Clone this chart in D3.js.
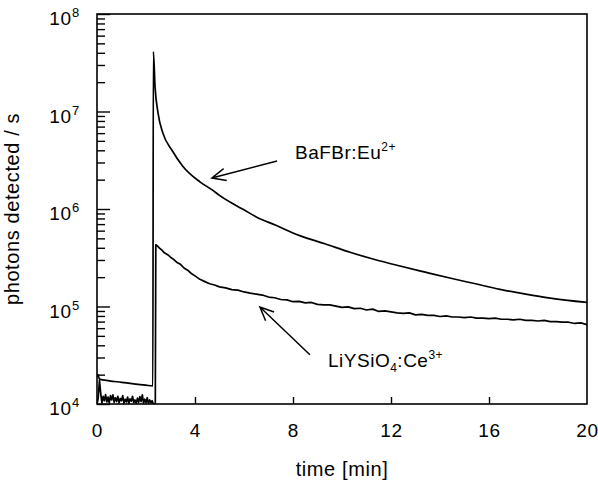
<!DOCTYPE html>
<html>
<head>
<meta charset="utf-8">
<script src="https://cdn.jsdelivr.net/npm/d3@7"></script>
<style>
  body { margin: 0; background: #fff; }
  text { font-family: "Liberation Sans", Arial, sans-serif; fill: #000; }
</style>
</head>
<body>
<div id="chart"></div>
<script>
// time [min] / photons per second
const bafbrT = [0, 0.04, 0.1, 0.5, 1.0, 1.5, 2.0, 2.28, 2.3, 2.37, 2.49, 2.69, 3.06, 3.5, 4.2, 4.7, 5.0, 5.5, 6.0, 6.5, 7.3, 8.3, 9.3, 10.33, 11.3, 12.37, 13.4, 14.4, 15.4, 16.45, 17.5, 18.5, 20];
const bafbrV = [1.9e4, 2.0e4, 1.8e4, 1.73e4, 1.67e4, 1.61e4, 1.56e4, 1.53e4, 4.1e7, 1.78e7, 9.7e6, 6.0e6, 4.0e6, 2.75e6, 1.9e6, 1.57e6, 1.38e6, 1.15e6, 9.8e5, 8.3e5, 6.8e5, 5.3e5, 4.4e5, 3.6e5, 3.05e5, 2.6e5, 2.25e5, 1.96e5, 1.72e5, 1.5e5, 1.34e5, 1.22e5, 1.1e5];

// LiYSiO4 before the exposure (noisy background)
const liysPreT = [0, 0.05, 0.1, 0.15, 0.2, 0.25, 0.3, 0.35, 0.4, 0.45, 0.5, 0.55, 0.6, 0.65, 0.7, 0.75, 0.8, 0.85, 0.9, 0.95,
  1.0, 1.05, 1.1, 1.15, 1.2, 1.25, 1.3, 1.35, 1.4, 1.45, 1.5, 1.55, 1.6, 1.65, 1.7, 1.75, 1.8, 1.85, 1.9, 1.95,
  2.0, 2.05, 2.1, 2.15, 2.2, 2.25, 2.3, 2.38];
const liysPreV = [1.0e4, 1.15e4, 1.75e4, 1.3e4, 1.02e4, 1.2e4, 1.08e4, 1.25e4, 1.05e4, 1.18e4, 1.02e4, 1.22e4, 1.1e4, 1.24e4, 1.04e4, 1.16e4, 1.06e4, 1.2e4, 1.03e4, 1.14e4,
  1.08e4, 1.22e4, 1.02e4, 1.12e4, 1.05e4, 1.18e4, 1.01e4, 1.13e4, 1.07e4, 1.2e4, 1.03e4, 1.1e4, 1.01e4, 1.15e4, 1.04e4, 1.19e4, 1.06e4, 1.24e4, 1.02e4, 1.12e4,
  1.03e4, 1.16e4, 1.01e4, 1.1e4, 1.03e4, 1.08e4, 1.0e4, 1.0e4];

// LiYSiO4 after the exposure
const liysT = [2.4, 2.45, 2.55, 2.65, 2.75, 2.9, 3.0, 3.1, 3.25, 3.4, 3.55, 3.7, 3.85, 4.0, 4.2, 4.4, 4.6, 4.8, 5.0,
  5.25, 5.5, 5.75, 6.0, 6.25, 6.5, 6.75, 7.0, 7.25, 7.5, 7.75, 8.0, 8.25, 8.5, 8.75, 9.0, 9.25, 9.5, 9.75,
  10.0, 10.25, 10.5, 10.75, 11.0, 11.25, 11.5, 11.75, 12.0, 12.25, 12.5, 12.75, 13.0, 13.25, 13.5, 13.75,
  14.0, 14.25, 14.5, 14.75, 15.0, 15.25, 15.5, 15.75, 16.0, 16.25, 16.5, 16.75, 17.0, 17.25, 17.5, 17.75,
  18.0, 18.25, 18.5, 18.75, 19.0, 19.25, 19.5, 19.75, 20.0];
const liysV = [4.3e5, 4.2e5, 3.98e5, 3.78e5, 3.55e5, 3.38e5, 3.2e5, 3.08e5, 2.85e5, 2.72e5, 2.48e5, 2.36e5, 2.18e5, 2.06e5, 1.9e5, 1.8e5, 1.71e5, 1.66e5, 1.59e5,
  1.55e5, 1.49e5, 1.47e5, 1.41e5, 1.37e5, 1.34e5, 1.31e5, 1.25e5, 1.23e5, 1.18e5, 1.17e5, 1.12e5, 1.13e5, 1.09e5, 1.1e5, 1.05e5, 1.04e5, 1.04e5, 1.01e5,
  0.98e5, 0.99e5, 0.95e5, 0.96e5, 0.92e5, 0.94e5, 0.89e5, 0.9e5, 0.88e5, 0.86e5, 0.85e5, 0.86e5, 0.82e5, 0.83e5, 0.81e5, 0.81e5,
  0.79e5, 0.8e5, 0.78e5, 0.78e5, 0.77e5, 0.78e5, 0.76e5, 0.76e5, 0.75e5, 0.76e5, 0.74e5, 0.74e5, 0.73e5, 0.74e5, 0.72e5, 0.72e5,
  0.71e5, 0.72e5, 0.70e5, 0.70e5, 0.69e5, 0.69e5, 0.67e5, 0.68e5, 0.65e5];

const xTicks = [0, 4, 8, 12, 16, 20];
const yDecades = [4, 5, 6, 7, 8];

// annotations: arrow tip, arrow tail, text start (data units)
const annBafbr = { tip: [4.69, 2.08e6], tail: [7.35, 3.1e6], text: [8.08, 3.25e6] };
const annLiys = { tip: [6.65, 9.9e4], tail: [8.69, 3.2e4], text: [9.43, 2.38e4] };

const width = 598, height = 485;
const margin = { top: 14, right: 11, bottom: 81, left: 97 };
const w = width - margin.left - margin.right;
const h = height - margin.top - margin.bottom;

const svg = d3.select("#chart").append("svg")
    .attr("width", width)
    .attr("height", height);

const g = svg.append("g")
    .attr("transform", `translate(${margin.left},${margin.top})`);

const x = d3.scaleLinear().domain([0, 20]).range([0, w]);
const y = d3.scaleLog().domain([1e4, 1e8]).range([h, 0]);

g.append("clipPath").attr("id", "clip")
  .append("rect").attr("width", w).attr("height", h);

// ticks on the inside of the left axis
const minors = [];
yDecades.slice(0, -1).forEach(d => {
    for (let k = 2; k <= 9; k++) minors.push(k * Math.pow(10, d));
});
g.append("g")
    .call(d3.axisRight(y).tickValues(minors).tickSize(8).tickFormat(""))
    .call(a => a.select(".domain").remove())
    .selectAll("line").attr("stroke-width", 1.4);
g.append("g")
    .call(d3.axisRight(y).tickValues(yDecades.map(d => Math.pow(10, d))).tickSize(13).tickFormat(""))
    .call(a => a.select(".domain").remove())
    .selectAll("line").attr("stroke-width", 1.4);

// bottom ticks pointing up
g.append("g")
    .attr("transform", `translate(0,${h})`)
    .call(d3.axisTop(x).tickValues([4, 8, 12, 16]).tickSize(7).tickFormat(""))
    .call(a => a.select(".domain").remove())
    .selectAll("line").attr("stroke-width", 1.4);

// x tick labels
g.append("g")
    .attr("transform", `translate(0,${h})`)
    .call(d3.axisBottom(x).tickValues(xTicks).tickSize(0).tickPadding(20).tickFormat(d3.format("d")))
    .call(a => a.select(".domain").remove())
    .selectAll("text")
    .attr("font-size", 19)
    .attr("font-family", "Liberation Sans, Arial, sans-serif")
    .attr("letter-spacing", 0.8);

// y tick labels 10^n
const yLab = g.append("g").selectAll("text")
    .data(yDecades)
    .enter().append("text")
    .attr("x", -17)
    .attr("y", d => y(Math.pow(10, d)) + 11)
    .attr("text-anchor", "end")
    .attr("font-size", 19)
    .attr("letter-spacing", 0.8);
yLab.append("tspan").text("10");
yLab.append("tspan").attr("dy", -8).attr("font-size", 13).text(d => d);

// frame
g.append("rect")
    .attr("width", w).attr("height", h)
    .attr("fill", "none").attr("stroke", "#000").attr("stroke-width", 1.6);

// curves
const line = d3.line()
    .x(d => x(d[0]))
    .y(d => y(d[1]));

const curves = g.append("g").attr("clip-path", "url(#clip)");
curves.append("path")
    .datum(d3.zip(bafbrT, bafbrV))
    .attr("fill", "none").attr("stroke", "#000").attr("stroke-width", 1.7)
    .attr("d", line.curve(d3.curveMonotoneX));
curves.append("path")
    .datum(d3.zip(liysPreT.concat(liysT), liysPreV.concat(liysV)))
    .attr("fill", "none").attr("stroke", "#000").attr("stroke-width", 1.7)
    .attr("stroke-linejoin", "round")
    .attr("d", line.curve(d3.curveLinear));

// arrows
function arrow(a) {
    const x0 = x(a.tip[0]), y0 = y(a.tip[1]);
    const x1 = x(a.tail[0]), y1 = y(a.tail[1]);
    const ang = Math.atan2(y1 - y0, x1 - x0);
    const len = 15, spread = 0.42;
    const p = d3.path();
    p.moveTo(x1, y1); p.lineTo(x0, y0);
    p.moveTo(x0 + len * Math.cos(ang + spread), y0 + len * Math.sin(ang + spread));
    p.lineTo(x0, y0);
    p.lineTo(x0 + len * Math.cos(ang - spread), y0 + len * Math.sin(ang - spread));
    g.append("path").attr("d", p.toString())
        .attr("fill", "none").attr("stroke", "#000").attr("stroke-width", 1.5);
}
arrow(annBafbr);
arrow(annLiys);

const t1 = g.append("text")
    .attr("x", x(annBafbr.text[0])).attr("y", y(annBafbr.text[1]))
    .attr("font-size", 19).attr("letter-spacing", 0.5);
t1.append("tspan").text("BaFBr:Eu");
t1.append("tspan").attr("dy", -8).attr("font-size", 12).text("2+");

const t2 = g.append("text")
    .attr("x", x(annLiys.text[0])).attr("y", y(annLiys.text[1]))
    .attr("font-size", 19).attr("letter-spacing", 0.5);
t2.append("tspan").text("LiYSiO");
t2.append("tspan").attr("dy", 5).attr("font-size", 12).text("4");
t2.append("tspan").attr("dy", -5).text(":Ce");
t2.append("tspan").attr("dy", -8).attr("font-size", 12).text("3+");

// axis titles
svg.append("text")
    .attr("x", margin.left + w / 2)
    .attr("y", 476)
    .attr("text-anchor", "middle")
    .attr("font-size", 20)
    .attr("letter-spacing", 0.6)
    .text("time [min]");

svg.append("text")
    .attr("transform", `translate(19,${margin.top + h / 2}) rotate(-90)`)
    .attr("text-anchor", "middle")
    .attr("font-size", 20)
    .attr("letter-spacing", 0.6)
    .text("photons detected / s");
</script>
</body>
</html>
